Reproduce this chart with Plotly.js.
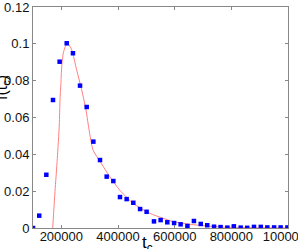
<!DOCTYPE html>
<html>
<head>
<meta charset="utf-8">
<script src="https://cdn.plot.ly/plotly-3.0.1.min.js"></script>
<style>html,body{margin:0;padding:0;background:#fff;}#chart{width:298px;height:249px;}</style>
</head>
<body>
<div id="chart"></div>
<script>
var pointX = [100000,122000,147000,170600,194000,219000,241000,266000,289500,313000,336500,360000,383500,407000,430500,454000,478000,501000,527000,550500,574000,598000,621000,645000,668000,692000,715000,739000,762000,786000,809000,833000,856000,880000,904000,927000,951000,974000,998000];
var pointY = [0,0.0067,0.0289,0.0695,0.0903,0.1003,0.0949,0.0773,0.0657,0.0469,0.0369,0.0279,0.0255,0.0168,0.0157,0.0137,0.0103,0.0088,0.0036,0.0043,0.0031,0.0027,0.002,0.0011,0.0038,0.0022,0.0015,0.0007,0.0005,0.0002,0.0009,0.0002,0.0001,0.0006,0.0006,0.0003,0.0003,0.0003,0.0003];
var fitX = [169500,177600,185800,192800,195300,198500,201300,206900,214000,222500,236600,254200,271900,287100,295200,311800,341100,370700,406000,453000,511900,558800,595200,654100,713100,770600,830600,900000,1000000];
var fitY = [0,0.0197,0.0378,0.0559,0.0695,0.0786,0.0876,0.0949,0.0985,0.1003,0.0967,0.0858,0.0749,0.0641,0.0559,0.0424,0.0351,0.0279,0.0206,0.0134,0.008,0.0053,0.0034,0.002,0.0011,0.0005,0.0002,0.0001,0];
var xTicks = [200000,400000,600000,800000,1000000];
var yTicks = [0,0.02,0.04,0.06,0.08,0.1,0.12];

var traces = [
  {x: fitX, y: fitY, type: 'scatter', mode: 'lines', line: {color: '#ff8080', width: 1, shape: 'spline', smoothing: 0.6}, hoverinfo: 'skip'},
  {x: pointX, y: pointY, type: 'scatter', mode: 'markers', marker: {color: '#0000ff', symbol: 'square', size: 4.5, line: {width: 0}}}
];
var axisCommon = {showgrid: false, zeroline: false, showline: true, mirror: 'ticks', linecolor: '#888', linewidth: 1, ticks: 'inside', ticklen: 3, tickcolor: '#888', ticklabeloverflow: 'allow', tickfont: {family: 'Liberation Sans, Arial, sans-serif', size: 13, color: '#111'}};
var layout = {
  width: 298, height: 249,
  margin: {l: 33, r: 10, t: 7, b: 21},
  paper_bgcolor: '#fff', plot_bgcolor: '#fff',
  showlegend: false,
  xaxis: Object.assign({}, axisCommon, {range: [100000, 1000000], tickvals: xTicks, ticktext: xTicks.map(String), ticklabelstandoff: -4}),
  yaxis: Object.assign({}, axisCommon, {range: [0, 0.12], tickvals: yTicks, ticktext: yTicks.map(String)}),
  annotations: [
    {text: 'f(t<sub>c</sub>)', xref: 'paper', yref: 'paper', x: -0.075, y: 0.635, xanchor: 'right', yanchor: 'middle', textangle: -90, showarrow: false, font: {family: 'Liberation Sans, Arial, sans-serif', size: 16, color: '#000'}},
    {text: 't<sub>c</sub>', xref: 'paper', yref: 'paper', x: 0.45, y: -0.012, xanchor: 'center', yanchor: 'top', showarrow: false, font: {family: 'Liberation Sans, Arial, sans-serif', size: 17, color: '#000'}}
  ]
};
Plotly.newPlot('chart', traces, layout, {displayModeBar: false, staticPlot: true});
</script>
</body>
</html>
